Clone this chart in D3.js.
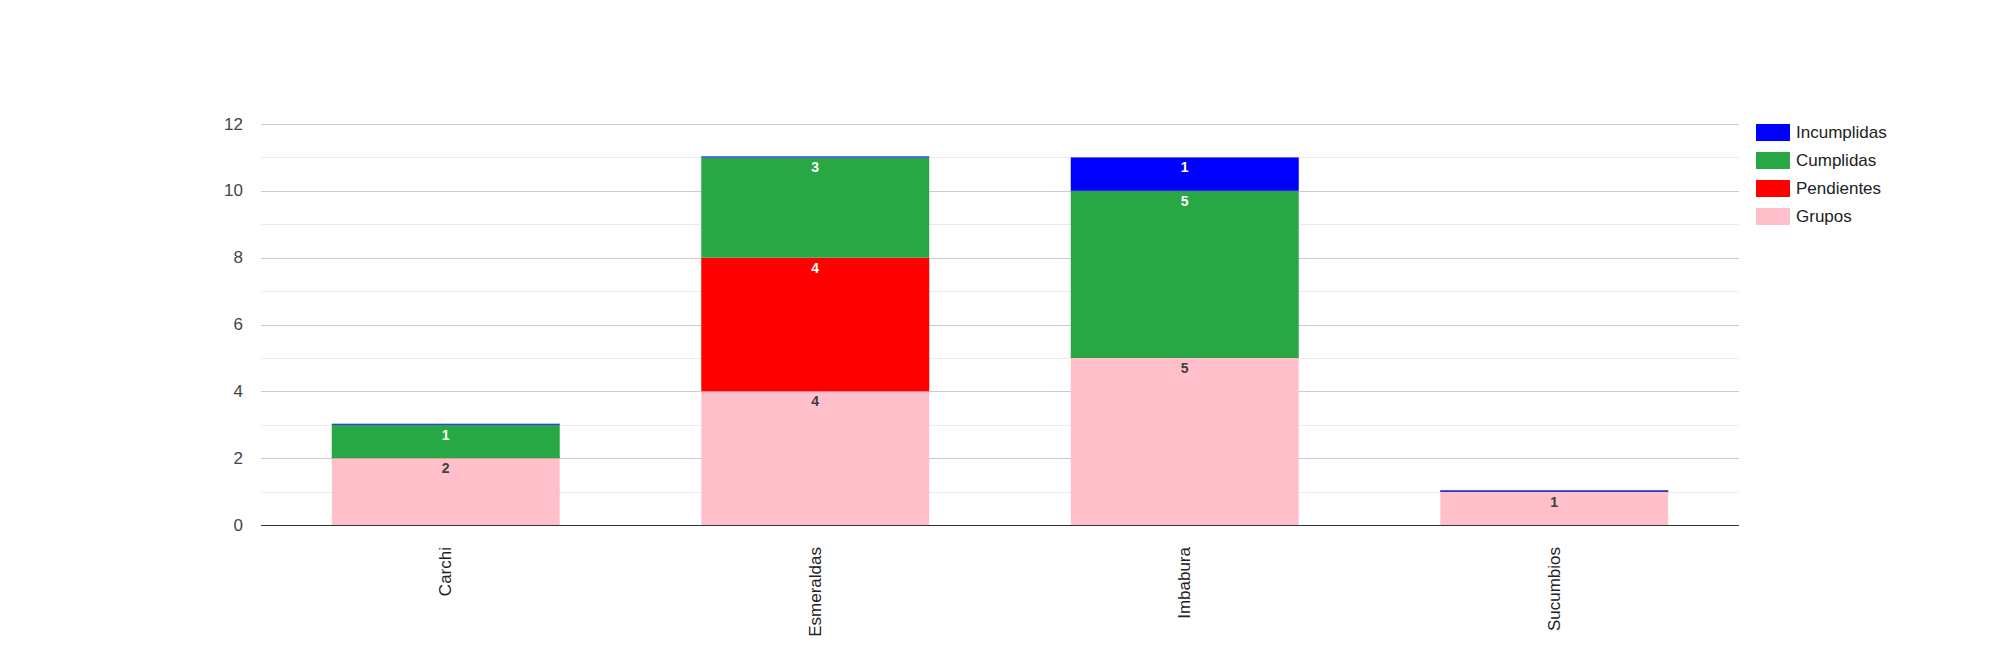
<!DOCTYPE html>
<html>
<head>
<meta charset="utf-8">
<script src="https://cdn.jsdelivr.net/npm/d3@7"></script>
<style>
  html, body { margin: 0; padding: 0; background: #fff; }
  svg { display: block; font-family: Arial, "Liberation Sans", sans-serif; }
</style>
</head>
<body>
<svg id="chart" width="2000" height="650"></svg>
<script>
const categories = ["Carchi", "Esmeraldas", "Imbabura", "Sucumbios"];
const grupos      = [2, 4, 5, 1];
const pendientes  = [0, 4, 0, 0];
const cumplidas   = [1, 3, 5, 0];
const incumplidas = [0, 0, 1, 0];
const seriesNames = ["Grupos", "Pendientes", "Cumplidas", "Incumplidas"];
const seriesColors = ["#ffc0cb", "#ff0000", "#28a745", "#0000ff"];
const labelColors = ["#404040", "#ffffff", "#ffffff", "#ffffff"];
const yTicks = [0, 2, 4, 6, 8, 10, 12];
const yMinor = [1, 3, 5, 7, 9, 11];

const seriesValues = [grupos, pendientes, cumplidas, incumplidas];

const svg = d3.select("#chart");
const plotLeft = 261, plotRight = 1739, plotTop = 124, plotBottom = 525;

const x = d3.scaleBand().domain(categories).range([plotLeft, plotRight]).paddingInner(0.383).paddingOuter(0.1915);
const y = d3.scaleLinear().domain([0, 12]).range([plotBottom, plotTop]);

// minor gridlines
svg.append("g").selectAll("line").data(yMinor).join("line")
  .attr("x1", plotLeft).attr("x2", plotRight)
  .attr("y1", d => Math.round(y(d)) + 0.5).attr("y2", d => Math.round(y(d)) + 0.5)
  .attr("stroke", "#ebebeb").attr("stroke-width", 1);

// major gridlines
svg.append("g").selectAll("line").data(yTicks.filter(d => d !== 0)).join("line")
  .attr("x1", plotLeft).attr("x2", plotRight)
  .attr("y1", d => Math.round(y(d)) + 0.5).attr("y2", d => Math.round(y(d)) + 0.5)
  .attr("stroke", "#cccccc").attr("stroke-width", 1);

// y tick labels
svg.append("g").selectAll("text").data(yTicks).join("text")
  .attr("x", plotLeft - 18).attr("y", d => y(d))
  .attr("text-anchor", "end").attr("dominant-baseline", "central")
  .attr("font-size", 17).attr("fill", "#444")
  .text(d => d);

// stacked data
const rows = categories.map((c, i) => {
  const r = { cat: c };
  seriesNames.forEach((s, k) => r[s] = seriesValues[k][i]);
  return r;
});
const stack = d3.stack().keys(seriesNames)(rows);

const gBars = svg.append("g");
stack.forEach((layer, k) => {
  gBars.append("g").selectAll("rect").data(layer).join("rect")
    .attr("x", d => x(d.data.cat))
    .attr("width", x.bandwidth())
    .attr("y", d => d[1] === d[0] ? y(d[1]) - 1 : y(d[1]))
    .attr("height", d => d[1] === d[0] ? 1 : y(d[0]) - y(d[1]))
    .attr("fill", seriesColors[k]);
});

// value labels
stack.forEach((layer, k) => {
  svg.append("g").selectAll("text").data(layer.filter(d => d[1] - d[0] > 0)).join("text")
    .attr("x", d => x(d.data.cat) + x.bandwidth() / 2)
    .attr("y", d => y(d[1]) + 10)
    .attr("text-anchor", "middle").attr("dominant-baseline", "central")
    .attr("font-size", 14).attr("font-weight", "bold")
    .attr("fill", labelColors[k])
    .text(d => d[1] - d[0]);
});

// baseline
svg.append("line")
  .attr("x1", plotLeft).attr("x2", plotRight)
  .attr("y1", Math.round(y(0)) + 0.5).attr("y2", Math.round(y(0)) + 0.5)
  .attr("stroke", "#333").attr("stroke-width", 1);

// x category labels (rotated)
svg.append("g").selectAll("text").data(categories).join("text")
  .attr("transform", d => `translate(${x(d) + x.bandwidth() / 2},547) rotate(-90)`)
  .attr("text-anchor", "end").attr("dominant-baseline", "central")
  .attr("font-size", 17).attr("fill", "#222")
  .text(d => d);

// legend (top series first)
const legendOrder = [3, 2, 1, 0];
const lg = svg.append("g").selectAll("g").data(legendOrder).join("g")
  .attr("transform", (d, i) => `translate(1756,${124 + i * 28})`);
lg.append("rect").attr("width", 34).attr("height", 17).attr("fill", d => seriesColors[d]);
lg.append("text").attr("x", 40).attr("y", 8.5)
  .attr("dominant-baseline", "central").attr("font-size", 17).attr("fill", "#222")
  .text(d => seriesNames[d]);
</script>
</body>
</html>
